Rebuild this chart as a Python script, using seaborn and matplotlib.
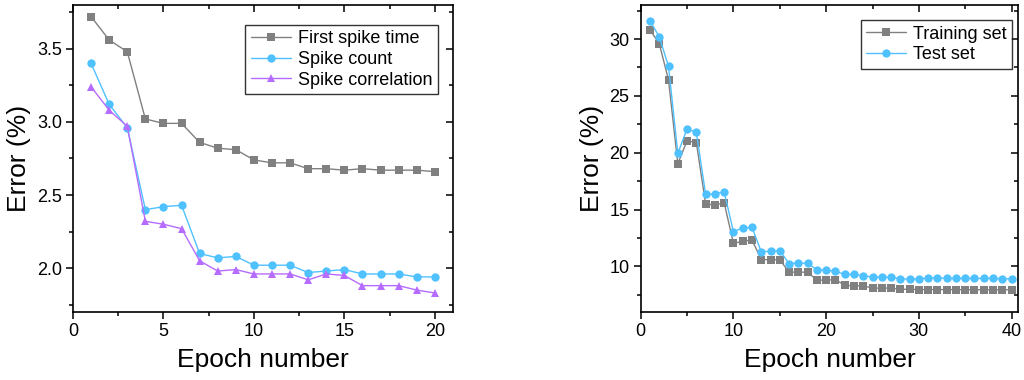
import numpy as np
import pandas as pd
import matplotlib
matplotlib.use("Agg")
import matplotlib.pyplot as plt
import seaborn as sns
from matplotlib.ticker import MultipleLocator

sns.set_theme(style="white")
plt.rcParams['font.family'] = ['Liberation Sans', 'DejaVu Sans']
plt.rcParams['text.color'] = 'black'
plt.rcParams['axes.labelcolor'] = 'black'
plt.rcParams['xtick.color'] = 'black'
plt.rcParams['ytick.color'] = 'black'

# ---- data: left panel ----
epochs_left = list(range(1, 21))
first_spike_time = [3.72, 3.56, 3.48, 3.02, 2.99, 2.99, 2.86, 2.82, 2.81, 2.74,
                    2.72, 2.72, 2.68, 2.68, 2.67, 2.68, 2.67, 2.67, 2.67, 2.66]
spike_count = [3.40, 3.12, 2.96, 2.40, 2.42, 2.43, 2.10, 2.07, 2.08, 2.02,
               2.02, 2.02, 1.97, 1.98, 1.99, 1.96, 1.96, 1.96, 1.94, 1.94]
spike_correlation = [3.24, 3.08, 2.97, 2.32, 2.30, 2.27, 2.05, 1.98, 1.99, 1.96,
                     1.96, 1.96, 1.92, 1.96, 1.95, 1.88, 1.88, 1.88, 1.85, 1.83]
left_labels = ["First spike time", "Spike count", "Spike correlation"]

# ---- data: right panel ----
epochs_right = list(range(1, 41))
training_set = [30.8, 29.6, 26.4, 19.05, 21.05, 20.9, 15.5, 15.4, 15.6, 12.05,
                12.2, 12.35, 10.6, 10.6, 10.6, 9.5, 9.5, 9.5, 8.8, 8.8,
                8.85, 8.35, 8.3, 8.3, 8.1, 8.1, 8.1, 8.0, 8.0, 7.97,
                7.97, 7.97, 7.97, 7.97, 7.95, 7.95, 7.95, 7.95, 7.95, 7.95]
test_set = [31.6, 30.2, 27.6, 19.95, 22.1, 21.8, 16.35, 16.4, 16.55, 13.06,
            13.4, 13.45, 11.3, 11.35, 11.4, 10.26, 10.3, 10.3, 9.7, 9.7,
            9.58, 9.3, 9.3, 9.2, 9.06, 9.06, 9.06, 8.9, 8.9, 8.9,
            9.0, 9.0, 8.95, 8.95, 8.95, 8.95, 8.95, 8.95, 8.92, 8.92]
right_labels = ["Training set", "Test set"]

GRAY = "#808080"
BLUE = "#4fc1ff"
PURPLE = "#b56cff"

fig = plt.figure(figsize=(10.24, 3.8), dpi=100)
ax1 = fig.add_axes([0.0713, 0.179, 0.371, 0.808])
ax2 = fig.add_axes([0.6257, 0.179, 0.3685, 0.808])

def style_axes(ax, xmaj, xmin, ymaj, ymin):
    for s in ax.spines.values():
        s.set_color("black")
        s.set_linewidth(1.2)
    ax.xaxis.set_major_locator(MultipleLocator(xmaj))
    ax.xaxis.set_minor_locator(MultipleLocator(xmin))
    ax.yaxis.set_major_locator(MultipleLocator(ymaj))
    ax.yaxis.set_minor_locator(MultipleLocator(ymin))
    ax.tick_params(which="both", direction="out", bottom=True, left=True,
                   top=False, right=False, width=1.1, color="black",
                   labelcolor="black", labelsize=13, pad=3)
    ax.tick_params(which="major", length=5)
    ax.tick_params(which="minor", length=3)
    # mirrored inward ticks on top/right
    top = ax.secondary_xaxis("top")
    top.xaxis.set_major_locator(MultipleLocator(xmaj))
    top.xaxis.set_minor_locator(MultipleLocator(xmin))
    top.tick_params(which="both", direction="in", labeltop=False, width=1.1,
                    color="black")
    top.tick_params(which="major", length=5)
    top.tick_params(which="minor", length=3)
    top.spines["top"].set_visible(False)
    right = ax.secondary_yaxis("right")
    right.yaxis.set_major_locator(MultipleLocator(ymaj))
    right.yaxis.set_minor_locator(MultipleLocator(ymin))
    right.tick_params(which="both", direction="in", labelright=False, width=1.1,
                      color="black")
    right.tick_params(which="major", length=5)
    right.tick_params(which="minor", length=3)
    right.spines["right"].set_visible(False)

# left panel
for vals, lab, col, mk in zip([first_spike_time, spike_count, spike_correlation],
                              left_labels, [GRAY, BLUE, PURPLE], ["s", "o", "^"]):
    sns.lineplot(x=epochs_left, y=vals, ax=ax1, color=col, marker=mk,
                 markersize=6, markeredgewidth=0, linewidth=1.0, label=lab)
ax1.set_xlim(0, 21)
ax1.set_ylim(1.7, 3.8)
style_axes(ax1, 5, 2.5, 0.5, 0.25)
ax1.set_xlabel("Epoch number", fontsize=19, labelpad=6, color="black")
ax1.set_ylabel("Error (%)", fontsize=19, labelpad=4, color="black")
leg1 = ax1.legend(loc="upper right", bbox_to_anchor=(0.96, 0.935), fontsize=13,
                  frameon=True, fancybox=False, edgecolor="black",
                  handlelength=2.2, handletextpad=0.4, borderpad=0.3,
                  labelspacing=0.2, borderaxespad=0)
leg1.get_frame().set_linewidth(1.0)

# right panel
for vals, lab, col, mk in zip([training_set, test_set], right_labels,
                              [GRAY, BLUE], ["s", "o"]):
    sns.lineplot(x=epochs_right, y=vals, ax=ax2, color=col, marker=mk,
                 markersize=6, markeredgewidth=0, linewidth=1.0, label=lab)
ax2.set_xlim(0, 40.7)
ax2.set_ylim(6, 33)
style_axes(ax2, 10, 5, 5, 2.5)
ax2.set_xlabel("Epoch number", fontsize=19, labelpad=6, color="black")
ax2.set_ylabel("Error (%)", fontsize=19, labelpad=4, color="black")
leg2 = ax2.legend(loc="upper right", bbox_to_anchor=(0.985, 0.95), fontsize=13,
                  frameon=True, fancybox=False, edgecolor="black",
                  handlelength=2.2, handletextpad=0.4, borderpad=0.3,
                  labelspacing=0.2, borderaxespad=0)
leg2.get_frame().set_linewidth(1.0)

fig.savefig("out.png", dpi=100)
